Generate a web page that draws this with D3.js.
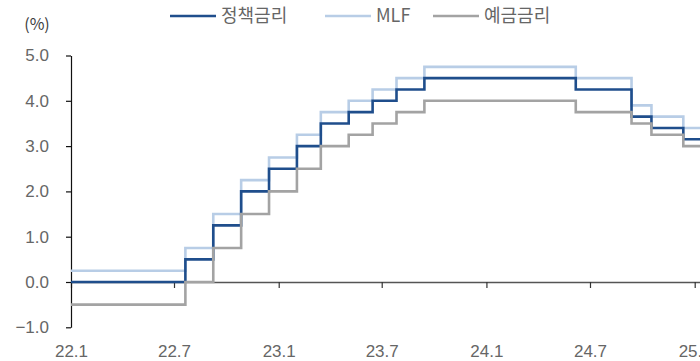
<!DOCTYPE html>
<html>
<head>
<meta charset="utf-8">
<script src="https://cdn.jsdelivr.net/npm/d3@7"></script>
<style>
  html, body { margin: 0; padding: 0; background: #fff; }
  svg { display: block; font-family: "Noto Sans CJK KR", "Noto Sans", sans-serif; }
  .axis text { fill: #666; font-size: 17px; }
</style>
</head>
<body>
<svg id="chart" width="700" height="361"></svg>
<script>
// Rate decision dates (values hold from each date until the next one)
const dates = [
  "2022-01-01", "2022-07-21", "2022-09-08", "2022-10-27", "2022-12-15",
  "2023-02-02", "2023-03-16", "2023-05-04", "2023-06-15", "2023-07-27",
  "2023-09-14", "2024-06-06", "2024-09-12", "2024-10-17", "2024-12-12",
  "2025-01-15"
];
// Main refinancing rate (%)
const policyRate = [0.00, 0.50, 1.25, 2.00, 2.50, 3.00, 3.50, 3.75, 4.00, 4.25, 4.50, 4.25, 3.65, 3.40, 3.15, 3.15];
// Marginal lending facility (%)
const mlfRate    = [0.25, 0.75, 1.50, 2.25, 2.75, 3.25, 3.75, 4.00, 4.25, 4.50, 4.75, 4.50, 3.90, 3.65, 3.40, 3.40];
// Deposit facility (%)
const depositRate = [-0.50, 0.00, 0.75, 1.50, 2.00, 2.50, 3.00, 3.25, 3.50, 3.75, 4.00, 3.75, 3.50, 3.25, 3.00, 3.00];

const seriesNames = ["정책금리", "MLF", "예금금리"];
const xTickLabels = ["2022-01-01", "2022-07-01", "2023-01-01", "2023-07-01", "2024-01-01", "2024-07-01", "2025-01-01"];
const yTicks = [-1, 0, 1, 2, 3, 4, 5];

const parse = d3.utcParse("%Y-%m-%d");
const t = dates.map(parse);

const svg = d3.select("#chart");

const x = d3.scaleUtc()
  .domain([parse("2022-01-01"), parse("2025-01-01")])
  .range([71, 694.7]);
const y = d3.scaleLinear().domain([-1, 5]).range([327.3, 55.5]);

// X axis sits on the zero line
const xAxisScale = x.copy().domain([t[0], t[t.length - 1]]).range([x(t[0]), x(t[t.length - 1])]);
const gx = svg.append("g")
  .attr("class", "axis")
  .attr("transform", `translate(0,${y(0)})`)
  .call(d3.axisBottom(xAxisScale)
    .tickValues(xTickLabels.map(parse))
    .tickFormat(d3.utcFormat("%y.%-m"))
    .tickSize(6)
    .tickSizeOuter(0)
    .tickPadding(57));
gx.select(".domain").attr("stroke", "#555").attr("stroke-width", 1.5);
gx.selectAll(".tick line").attr("stroke", "#333").attr("stroke-width", 1.2);

// Y axis
const gy = svg.append("g")
  .attr("class", "axis")
  .attr("transform", `translate(${x(t[0])},0)`)
  .call(d3.axisLeft(y)
    .tickValues(yTicks)
    .tickFormat(d3.format(".1f"))
    .tickSize(5)
    .tickSizeOuter(0)
    .tickPadding(17));
gy.select(".domain").attr("stroke", "#111").attr("stroke-width", 1.2);
gy.selectAll(".tick line").attr("stroke", "#111").attr("stroke-width", 1.2);

svg.append("text")
  .attr("x", 37).attr("y", 30)
  .attr("text-anchor", "middle")
  .attr("fill", "#404040")
  .style("font-size", "16px")
  .text("(%)");

// Step lines
const colors = ["#1f4e8c", "#b8cde6", "#a3a3a3"];
const values = [policyRate, mlfRate, depositRate];
const line = d3.line()
  .x(d => x(d[0]))
  .y(d => y(d[1]))
  .curve(d3.curveStepAfter);

const order = [1, 0, 2];
order.forEach(i => {
  svg.append("path")
    .datum(t.map((d, j) => [d, values[i][j]]))
    .attr("fill", "none")
    .attr("stroke", colors[i])
    .attr("stroke-width", 2.6)
    .attr("d", line);
});

// Legend
const legendX = [170, 325, 433];
const legend = svg.append("g");
seriesNames.forEach((name, i) => {
  legend.append("line")
    .attr("x1", legendX[i]).attr("x2", legendX[i] + 46)
    .attr("y1", 16).attr("y2", 16)
    .attr("stroke", colors[i]).attr("stroke-width", 2.6);
  legend.append("text")
    .attr("x", legendX[i] + 51).attr("y", 16)
    .attr("dy", "0.35em")
    .attr("fill", "#666")
    .style("font-size", "18px")
    .text(name);
});
</script>
</body>
</html>
